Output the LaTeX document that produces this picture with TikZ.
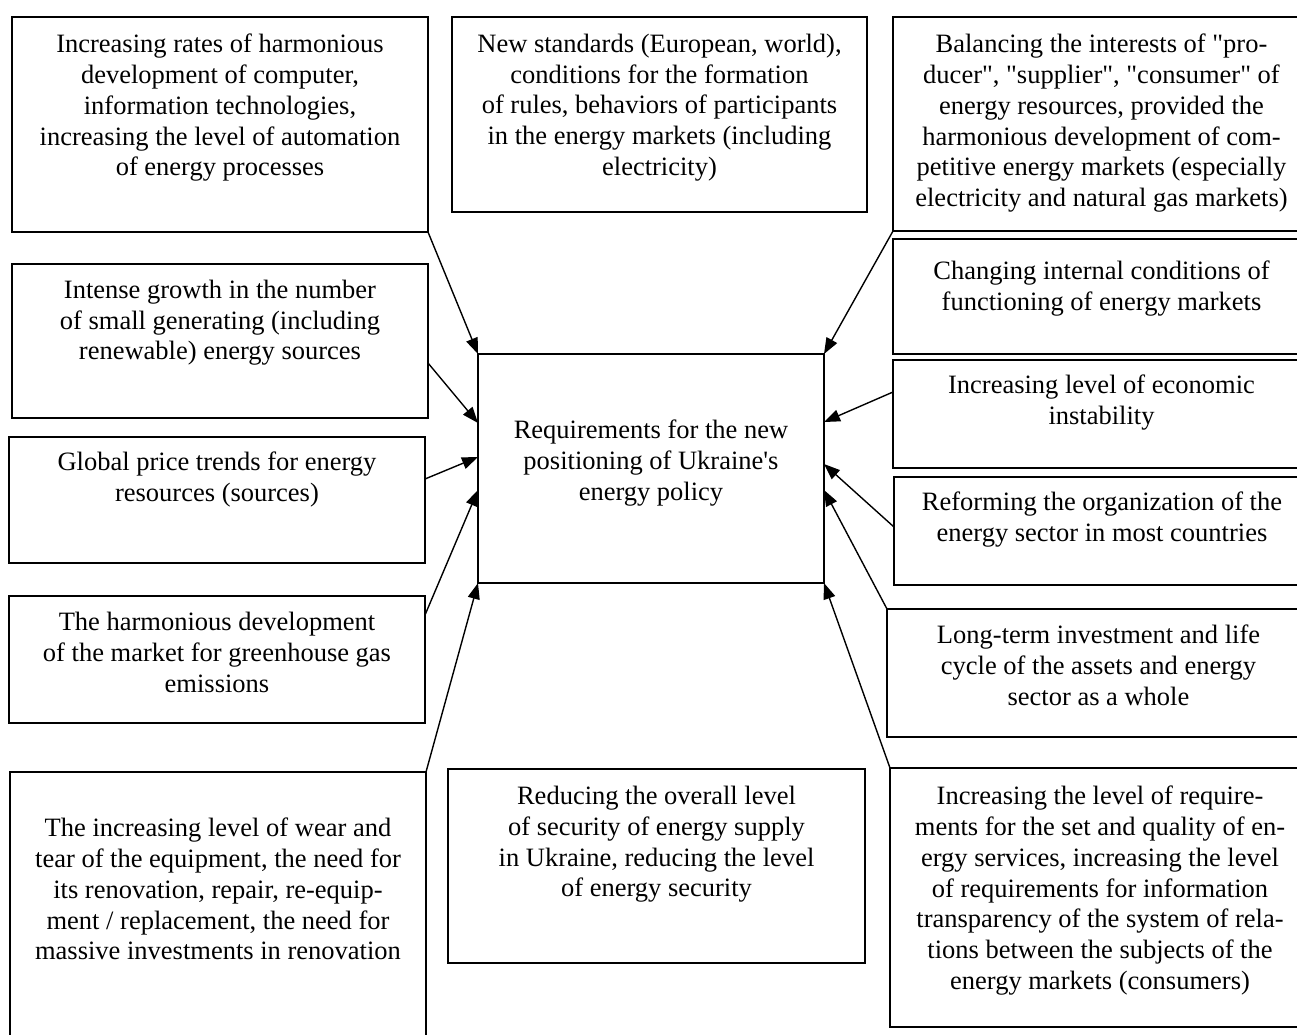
\documentclass[tikz,border=0pt]{standalone}
\usepackage{fontspec}
\newfontfamily\mainf{Liberation Serif}
\usetikzlibrary{arrows.meta}
\begin{document}
\begin{tikzpicture}[x=1pt,y=-1pt,
  box/.style={draw, line width=1.8pt, anchor=north west, inner sep=0pt, outer sep=0pt},
  cbox/.style={box, line width=1.4pt},
  txt/.style={anchor=north, inner sep=0pt, outer sep=0pt, align=center, font=\mainf\fontsize{26.5}{30.8}\selectfont},
  arr/.style={line width=1.4pt, -{Triangle[length=16pt,width=12pt]}}]
\useasboundingbox (0,0) rectangle (1297,1034);
\clip (0,0) rectangle (1297,1034);
% boxes
\node[box, minimum width=416pt, minimum height=215pt] (A) at (12,17) {};
\node[box, minimum width=415pt, minimum height=195pt] (B) at (452,17) {};
\node[box, minimum width=417pt, minimum height=214pt] (C) at (893,17) {};
\node[box, minimum width=417pt, minimum height=115pt] (D) at (893,239) {};
\node[box, minimum width=417pt, minimum height=108pt] (E) at (893,360) {};
\node[box, minimum width=416pt, minimum height=108pt] (F) at (894,477) {};
\node[box, minimum width=423pt, minimum height=128pt] (G) at (887,609) {};
\node[box, minimum width=420pt, minimum height=259pt] (H) at (890,768) {};
\node[box, minimum width=417pt, minimum height=194pt] (I) at (448,769) {};
\node[box, minimum width=416pt, minimum height=290pt] (J) at (10,772) {};
\node[box, minimum width=416pt, minimum height=154pt] (K) at (12,264) {};
\node[box, minimum width=416pt, minimum height=126pt] (L) at (9,437) {};
\node[box, minimum width=416pt, minimum height=127pt] (M) at (9,596) {};
\node[cbox, minimum width=346pt, minimum height=229pt] (Z) at (478,354) {};
% texts
\node[txt] (At) at ([yshift=-17pt]A.north) {Increasing rates of harmonious\\development of computer,\\information technologies,\\increasing the level of automation\\of energy processes};
\node[txt] (Bt) at ([yshift=-17pt]B.north) {New standards (European, world),\\conditions for the formation\\of rules, behaviors of participants\\in the energy markets (including\\electricity)};
\node[txt] (Ct) at ([yshift=-17pt]C.north) {Balancing the interests of "pro-\\ducer", "supplier", "consumer" of\\energy resources, provided the\\harmonious development of com-\\petitive energy markets (especially\\electricity and natural gas markets)};
\node[txt] (Dt) at ([yshift=-22pt]D.north) {Changing internal conditions of\\functioning of energy markets};
\node[txt] (Et) at ([yshift=-15pt]E.north) {Increasing level of economic\\instability};
\node[txt] (Ft) at ([yshift=-15pt]F.north) {Reforming the organization of the\\energy sector in most countries};
\node[txt] (Gt) at ([yshift=-16pt]G.north) {Long-term investment and life\\cycle of the assets and energy\\sector as a whole};
\node[txt] (Ht) at ([yshift=-18pt]H.north) {Increasing the level of require-\\ments for the set and quality of en-\\ergy services, increasing the level\\of requirements for information\\transparency of the system of rela-\\tions between the subjects of the\\energy markets (consumers)};
\node[txt] (It) at ([yshift=-17pt]I.north) {Reducing the overall level\\of security of energy supply\\in Ukraine, reducing the level\\of energy security};
\node[txt] (Jt) at ([yshift=-46pt]J.north) {The increasing level of wear and\\tear of the equipment, the need for\\its renovation, repair, re-equip-\\ment / replacement, the need for\\massive investments in renovation};
\node[txt] (Kt) at ([yshift=-16pt]K.north) {Intense growth in the number\\of small generating (including\\renewable) energy sources};
\node[txt] (Lt) at ([yshift=-15pt]L.north) {Global price trends for energy\\resources (sources)};
\node[txt] (Mt) at ([yshift=-16pt]M.north) {The harmonious development\\of the market for greenhouse gas\\emissions};
\node[txt] (Zt) at ([yshift=-66pt]Z.north) {Requirements for the new\\positioning of Ukraine's\\energy policy};
% connectors
\draw[arr] (A.south east) -- (Z.north west);
\draw[arr] ([yshift=-22pt]K.east) -- ([yshift=45.5pt]Z.west);
\draw[arr] ([yshift=21pt]L.east) -- ([yshift=11.5pt]Z.west);
\draw[arr] ([yshift=44.5pt]M.east) -- ([yshift=-21.5pt]Z.west);
\draw[arr] (J.north east) -- (Z.south west);
\draw[arr] (C.south west) -- (Z.north east);
\draw[arr] ([yshift=22pt]E.west) -- ([yshift=46.5pt]Z.east);
\draw[arr] ([yshift=4pt]F.west) -- ([yshift=4.5pt]Z.east);
\draw[arr] (G.north west) -- ([yshift=-21.5pt]Z.east);
\draw[arr] (H.north west) -- (Z.south east);
\end{tikzpicture}
\end{document}
